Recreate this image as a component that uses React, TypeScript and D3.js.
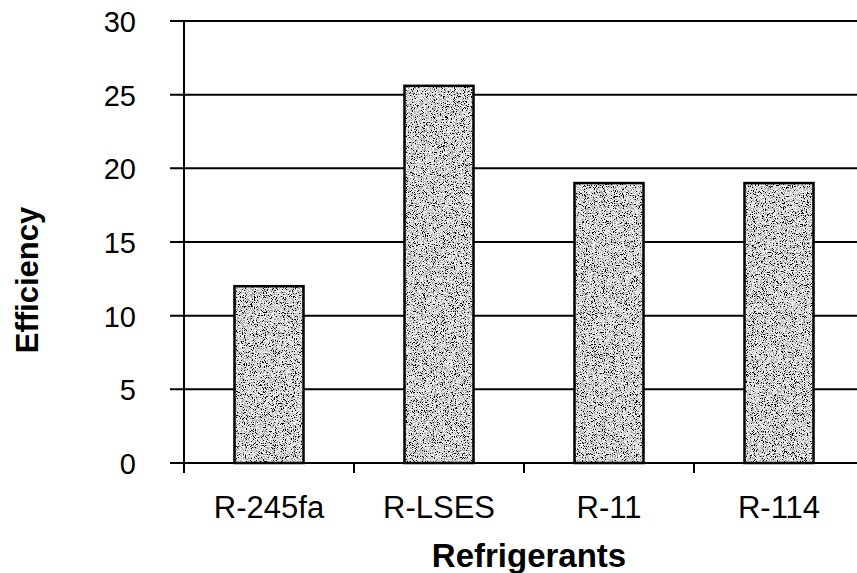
import React from "react";
import * as d3 from "d3";

const categories = ["R-245fa", "R-LSES", "R-11", "R-114"];
const efficiency = [12, 25.6, 19, 19];
const yTicks = [0, 5, 10, 15, 20, 25, 30];
const xTitle = "Refrigerants";
const yTitle = "Efficiency";

const W = 857;
const H = 573;
const left = 184;
const top = 21;
const bottom = 463;
const step = 170;

export default function App() {
  const x = d3
    .scaleBand<string>()
    .domain(categories)
    .range([left, left + step * categories.length])
    .padding(0);
  const y = d3.scaleLinear().domain([0, 30]).range([bottom, top]);
  const barW = x.bandwidth() * 0.406;
  const font = "'Liberation Sans', Arial, Helvetica, sans-serif";

  return (
    <svg
      width={W}
      height={H}
      style={{ position: "absolute", left: 0, top: 0, background: "#fff" }}
    >
      <defs>
        <filter id="stipple" x="0" y="0" width="100%" height="100%" filterUnits="objectBoundingBox">
          <feTurbulence type="fractalNoise" baseFrequency="1.1" numOctaves="2" seed="7" result="t" />
          <feColorMatrix
            in="t"
            type="matrix"
            values="1.3 1.3 1.3 0 -1.45  1.3 1.3 1.3 0 -1.45  1.3 1.3 1.3 0 -1.45  0 0 0 0 1"
            result="g"
          />
          <feComponentTransfer in="g" result="q">
            <feFuncR type="discrete" tableValues="0 0.35 0.7 0.85 1" />
            <feFuncG type="discrete" tableValues="0 0.35 0.7 0.85 1" />
            <feFuncB type="discrete" tableValues="0 0.35 0.7 0.85 1" />
          </feComponentTransfer>
          <feComposite in="q" in2="SourceGraphic" operator="in" />
        </filter>
      </defs>

      {/* gridlines + y ticks */}
      {yTicks.map((t) => (
        <line
          key={t}
          x1={170}
          x2={W}
          y1={y(t)}
          y2={y(t)}
          stroke="#000"
          strokeWidth={2}
        />
      ))}
      {/* y axis */}
      <line x1={left} x2={left} y1={top} y2={bottom + 10} stroke="#000" strokeWidth={2} />
      {/* x ticks at band boundaries */}
      {categories.map((c) => (
        <line
          key={"xt" + c}
          x1={x(c)!}
          x2={x(c)!}
          y1={bottom}
          y2={bottom + 10}
          stroke="#000"
          strokeWidth={2}
        />
      ))}

      {/* bars */}
      {categories.map((c, i) => {
        const bx = x(c)! + (x.bandwidth() - barW) / 2;
        const by = y(efficiency[i]);
        const bh = y(0) - by;
        return (
          <g key={"b" + c}>
            <rect x={bx} y={by} width={barW} height={bh} fill="#aaa" filter="url(#stipple)" />
            <rect x={bx} y={by} width={barW} height={bh} fill="none" stroke="#000" strokeWidth={2.5} />
          </g>
        );
      })}

      {/* y tick labels */}
      {yTicks.map((t) => (
        <text
          key={"yl" + t}
          x={136}
          y={y(t) + 11}
          textAnchor="end"
          fontFamily={font}
          fontSize={29}
          fill="#000"
        >
          {t}
        </text>
      ))}

      {/* x tick labels */}
      {categories.map((c) => (
        <text
          key={"xl" + c}
          x={x(c)! + x.bandwidth() / 2}
          y={518}
          textAnchor="middle"
          fontFamily={font}
          fontSize={31}
          fill="#000"
        >
          {c}
        </text>
      ))}

      <text
        x={529}
        y={567}
        textAnchor="middle"
        fontFamily={font}
        fontSize={33}
        fontWeight="bold"
        fill="#000"
      >
        {xTitle}
      </text>
      <text
        transform={`translate(38, 280) rotate(-90)`}
        textAnchor="middle"
        fontFamily={font}
        fontSize={31}
        fontWeight="bold"
        fill="#000"
      >
        {yTitle}
      </text>
    </svg>
  );
}
